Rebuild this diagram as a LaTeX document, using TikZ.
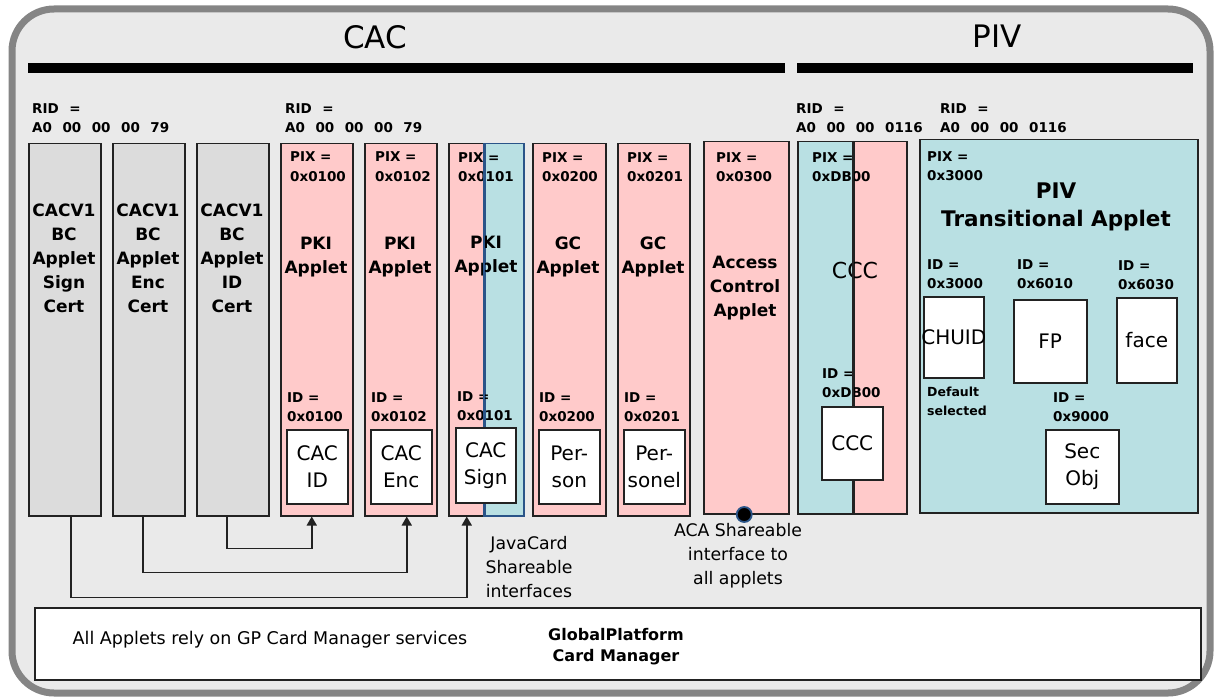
\documentclass[tikz,border=0pt]{standalone}
\usepackage{fontspec}
\setmainfont{DejaVu Sans}
\usetikzlibrary{arrows.meta}
\definecolor{bg}{HTML}{EAEAEA}
\definecolor{frm}{HTML}{858585}
\definecolor{pk}{HTML}{FFCACA}
\definecolor{bl}{HTML}{B9E0E3}
\definecolor{gr}{HTML}{DCDCDC}
\definecolor{navy}{HTML}{2A5488}
\definecolor{edge}{HTML}{222222}
\newcommand{\widesp}{\spaceskip=10.5pt\relax}
\tikzset{
  col/.style={draw=edge, line width=1.5pt, inner sep=0pt, anchor=north west},
  gcol/.style={col, fill=gr},
  pcol/.style={col, fill=pk},
  bcol/.style={col, fill=bl},
  wbox/.style={col, fill=white, font=\fontsize{20}{27}\selectfont, align=center},
  sm/.style={font=\bfseries\fontsize{13.5}{19.5}\selectfont, align=left, anchor=west, inner sep=0pt},
  ridlbl/.style={font=\bfseries\fontsize{13.5}{19.5}\selectfont\widesp, align=left, anchor=west, inner sep=0pt},
  tiny/.style={font=\bfseries\fontsize{12.5}{19}\selectfont, align=left, anchor=west, inner sep=0pt},
  big/.style={font=\bfseries\fontsize{17}{24}\selectfont, align=center, inner sep=0pt},
  lbl/.style={font=\fontsize{17.3}{24}\selectfont, align=center, inner sep=0pt},
  ttl/.style={font=\fontsize{31}{36}\selectfont, inner sep=0pt},
  arr/.style={draw=edge, line width=1.7pt, -{Triangle[length=9pt,width=10pt]}},
}
\begin{document}
\begin{tikzpicture}[x=1pt,y=-1pt]
\useasboundingbox (0,0) rectangle (1215,698);
% frame
\draw[frm, line width=7pt, fill=bg, rounded corners=42pt] (12,9) rectangle (1210,693);
% titles and bars
\node[ttl] (cac) at (375,37) {CAC};
\node[ttl] (piv) at (997,36) {PIV};
\fill (28,63) rectangle (785,73);
\fill (797,63) rectangle (1193,73);
% RID labels
\node[ridlbl] (rid1) at (32,118) {RID =\\A0 00 00 00 79};
\node[ridlbl] (rid2) at (285,118) {RID =\\A0 00 00 00 79};
\node[ridlbl] (rid3) at (796,118) {RID =\\A0 00 00 0116};
\node[ridlbl] (rid4) at (940,118) {RID =\\A0 00 00 0116};
% gray columns
\node[gcol, minimum width=72pt, minimum height=372pt] (g1) at (28,143) {};
\node[gcol, minimum width=72pt, minimum height=372pt] (g2) at (112,143) {};
\node[gcol, minimum width=72pt, minimum height=372pt] (g3) at (196,143) {};
\node[big] (g1t) at (64,258) {CACV1\\BC\\Applet\\Sign\\Cert};
\node[big] (g2t) at (148,258) {CACV1\\BC\\Applet\\Enc\\Cert};
\node[big] (g3t) at (232,258) {CACV1\\BC\\Applet\\ID\\Cert};
% pink columns
\node[pcol, minimum width=72pt, minimum height=372pt] (p1) at (280,143) {};
\node[pcol, minimum width=72pt, minimum height=372pt] (p2) at (364,143) {};
\node[pcol, minimum width=36pt, minimum height=372pt] (p3) at (448,143) {};
\node[bcol, draw=navy, minimum width=39pt, minimum height=372pt] (b3) at (484,143) {};
\node[pcol, minimum width=73pt, minimum height=372pt] (p4) at (532,143) {};
\node[pcol, minimum width=72pt, minimum height=372pt] (p5) at (617,143) {};
\node[pcol, minimum width=85pt, minimum height=372pt] (acc) at (703,141) {};
% CCC column
\node[bcol, minimum width=109pt, minimum height=372pt] (cccb) at (797,141) {};
\node[pcol, minimum width=53pt, minimum height=372pt] (cccp) at (853,141) {};
% PIV column
\node[bcol, minimum width=278pt, minimum height=373pt] (pivb) at (919,139) {};
% PIX labels
\node[sm] (x1) at (290,166.5) {PIX =\\0x0100};
\node[sm] (x2) at (375,166.5) {PIX =\\0x0102};
\node[sm] (x3) at (458,167) {PIX =\\0x0101};
\node[sm] (x4) at (542,167) {PIX =\\0x0200};
\node[sm] (x5) at (627,167) {PIX =\\0x0201};
\node[sm] (x6) at (716,167) {PIX =\\0x0300};
\node[sm] (x7) at (812,167) {PIX =\\0xDB00};
\node[sm] (x8) at (927,166) {PIX =\\0x3000};
% applet names
\node[big] (p1t) at (316,257.5) {PKI\\Applet};
\node[big] (p2t) at (400,257.5) {PKI\\Applet};
\node[big] (p3t) at (486,256) {PKI\\Applet};
\node[big] (p4t) at (568,257) {GC\\Applet};
\node[big] (p5t) at (653,257) {GC\\Applet};
\node[big] (acct) at (745,288) {Access\\Control\\Applet};
\node[font=\fontsize{22}{26}\selectfont, inner sep=0pt] (ccct) at (855,270) {CCC};
\node[font=\bfseries\fontsize{21.5}{28}\selectfont, align=center, inner sep=0pt] (pivt) at (1056,207) {PIV\\Transitional Applet};
% ID labels
\node[sm] (i1) at (287,407) {ID =\\0x0100};
\node[sm] (i2) at (371,407) {ID =\\0x0102};
\node[sm] (i3) at (457,406) {ID =\\0x0101};
\node[sm] (i4) at (539,407) {ID =\\0x0200};
\node[sm] (i5) at (624,407) {ID =\\0x0201};
\node[sm] (i6) at (822,383) {ID =\\0xDB00};
\node[sm] (i7) at (927,274) {ID =\\0x3000};
\node[sm] (i8) at (1017,274) {ID =\\0x6010};
\node[sm] (i9) at (1118,275) {ID =\\0x6030};
\node[sm] (i10) at (1053,407) {ID =\\0x9000};
\node[tiny] (dflt) at (927,401.5) {Default\\selected};
% divider lines drawn over the labels
\draw[navy, line width=1.5pt] (b3.north west) -- (b3.south west);
\draw[edge, line width=1.5pt] (cccp.north west) -- (cccp.south west);
% white boxes
\node[wbox, minimum width=61pt, minimum height=74pt] (w1) at (286,429) {CAC\\ID};
\node[wbox, minimum width=61pt, minimum height=74pt] (w2) at (370,429) {CAC\\Enc};
\node[wbox, minimum width=60pt, minimum height=75pt] (w3) at (455,427) {CAC\\Sign};
\node[wbox, minimum width=61pt, minimum height=74pt] (w4) at (538,429) {Per-\\son};
\node[wbox, minimum width=61pt, minimum height=74pt] (w5) at (623,429) {Per-\\sonel};
\node[wbox, minimum width=61pt, minimum height=73pt] (w6) at (821,406) {CCC};
\node[wbox, minimum width=60pt, minimum height=81pt] (chuid) at (923,296) {};
\node[font=\fontsize{20}{24}\selectfont, inner sep=0pt] (chuidt) at (chuid.center) {CHUID};
\node[wbox, minimum width=73pt, minimum height=83pt] (fp) at (1013,299) {FP};
\node[wbox, minimum width=60pt, minimum height=85pt] (face) at (1116,297) {face};
\node[wbox, minimum width=73pt, minimum height=74pt] (sec) at (1045,429) {Sec\\Obj};
% ACA interface dot
\node[circle, fill=black, draw=navy, line width=1.8pt, minimum size=15pt, inner sep=0pt] (dot) at ([xshift=-2pt]acc.south) {};
% connectors
\draw[arr] ([xshift=6pt]g1.south) -- ++(0,81) -| (p3.south);
\draw[arr] ([xshift=-6pt]g2.south) -- ++(0,56) -| ([xshift=6pt]p2.south);
\draw[arr] ([xshift=-6pt]g3.south) -- ++(0,32) -| ([xshift=-5pt]p1.south);
% notes
\node[lbl] (jc) at (529,567) {JavaCard\\Shareable\\interfaces};
\node[lbl] (aca) at (738,556) {ACA Shareable\\interface to\\all applets};
% GlobalPlatform
\node[col, fill=white, minimum width=1166pt, minimum height=72pt] (gp) at (34,607) {};
\node[lbl, font=\fontsize{17.5}{24}\selectfont] (gpl) at (270,640) {All Applets rely on GP Card Manager services};
\node[font=\bfseries\fontsize{16}{21}\selectfont, align=center, inner sep=0pt] (gpt) at (616,646.5) {GlobalPlatform\\Card Manager};
\end{tikzpicture}
\end{document}
